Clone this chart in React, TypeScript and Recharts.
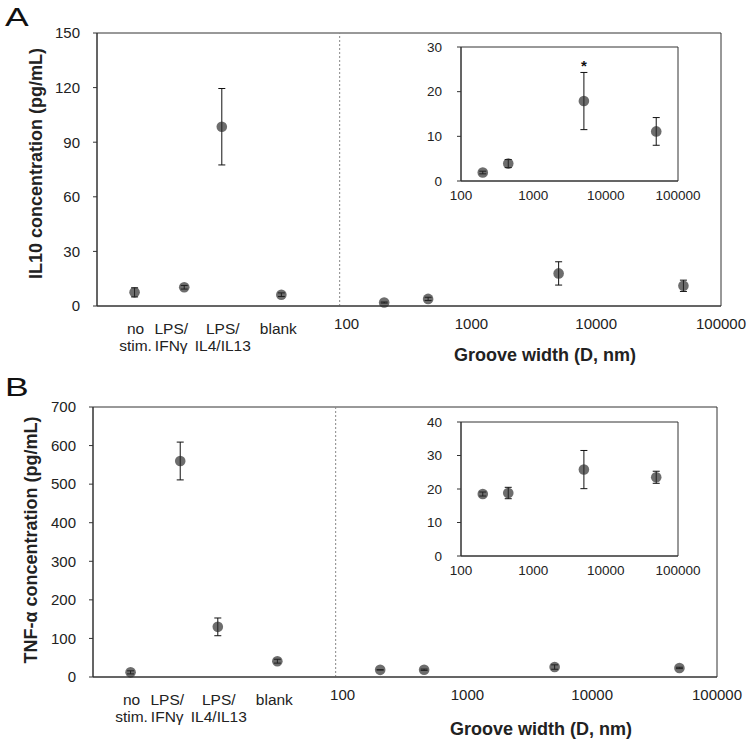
import React from 'react';
import {
  ScatterChart,
  Scatter,
  XAxis,
  YAxis,
  ErrorBar,
  ReferenceLine,
  ReferenceArea,
  ReferenceDot,
  Label,
} from 'recharts';

// ---------- data ----------
const categoryLabels = [['no', 'stim.'], ['LPS/', 'IFNγ'], ['LPS/', 'IL4/IL13'], ['blank']];
const categoryX = [2, 5, 10, 30];
const grooveWidths = [200, 450, 5000, 50000];
const separatorX = 88;
const mainXTicks = [100, 1000, 10000, 100000];
const insetXTicks = [100, 1000, 10000, 100000];

const il10Control = [7.5, 10.3, 98.5, 6.2];
const il10ControlSD = [2.5, 1.0, 21, 1.0];
const il10Groove = [1.9, 3.9, 17.9, 11.1];
const il10GrooveSD = [0.3, 0.9, 6.4, 3.1];
const il10Ticks = [0, 30, 60, 90, 120, 150];
const il10InsetTicks = [0, 10, 20, 30];
const il10Significance = [{ x: 5000, y: 26.5 }];

const tnfControl = [12, 560, 130, 41];
const tnfControlSD = [4, 49, 23, 5];
const tnfGroove = [18.5, 18.8, 25.8, 23.5];
const tnfGrooveSD = [0.6, 1.7, 5.7, 1.8];
const tnfTicks = [0, 100, 200, 300, 400, 500, 600, 700];
const tnfInsetTicks = [0, 10, 20, 30, 40];

// ---------- style ----------
const FONT = '"Liberation Sans", Arial, Helvetica, sans-serif';
const AXIS = '#333';
const TEXT = '#222';
const CAT_LABEL_DX = [1, -13, 1, -3];

const build = (xs: number[], ys: number[], sds: number[]) =>
  xs.map((x, i) => ({ x, y: ys[i], sd: sds[i] }));

const Marker = (p: any) => (
  <circle cx={p.cx} cy={p.cy} r={5.3} fill="#282828" fillOpacity={0.68} />
);

const MainTick = (props: any) => {
  const { x, y, payload } = props;
  const v = payload.value;
  const idx = categoryX.indexOf(v);
  if (idx >= 0) {
    const cx = x + CAT_LABEL_DX[idx];
    return (
      <g>
        {categoryLabels[idx].map((ln, i) => (
          <text
            key={i}
            x={cx}
            y={y + 5 + i * 17}
            dy="0.71em"
            textAnchor="middle"
            fontSize={15.5}
            fill={TEXT}
            fontFamily={FONT}
          >
            {ln}
          </text>
        ))}
      </g>
    );
  }
  return (
    <text x={x} y={y} dy="0.71em" textAnchor="middle" fontSize={15} fill={TEXT} fontFamily={FONT}>
      {v}
    </text>
  );
};

const YTitle = (text: string, dy: number, dx: number) => (props: any) => {
  const vb = props.viewBox || {};
  const cx = vb.x + dx;
  const cy = vb.y + vb.height / 2 + dy;
  return (
    <text
      x={cx}
      y={cy}
      transform={`rotate(-90 ${cx} ${cy})`}
      textAnchor="middle"
      dominantBaseline="central"
      fontFamily={FONT}
      fontWeight="bold"
      fontSize={18}
      fill={TEXT}
    >
      {text}
    </text>
  );
};

const XTitle = (text: string, dy: number) => (props: any) => {
  const vb = props.viewBox || {};
  const cx = vb.x + 448;
  const cy = vb.y + dy;
  return (
    <text
      x={cx}
      y={cy}
      textAnchor="middle"
      dominantBaseline="central"
      fontFamily={FONT}
      fontWeight="bold"
      fontSize={18}
      fill={TEXT}
    >
      {text}
    </text>
  );
};

const Star = (p: any) => (
  <text x={p.cx} y={p.cy + 8} textAnchor="middle" fontSize={15} fontWeight="bold" fill="#111" fontFamily={FONT}>
    *
  </text>
);

type PanelProps = {
  top: number;
  height: number;
  margin: { top: number; right: number; left: number; bottom: number };
  xAxisHeight: number;
  yMax: number;
  yTicks: number[];
  control: any[];
  groove: any[];
  yTitle: string;
  yTitleDy: number;
  yTitleDx: number;
  xTitleDy: number;
};

const MainPanel = (p: PanelProps) => (
  <div style={{ position: 'absolute', left: 0, top: p.top }}>
    <ScatterChart width={748} height={p.height} margin={p.margin}>
      <XAxis
        type="number"
        dataKey="x"
        scale="log"
        domain={[1, 100000]}
        ticks={[...categoryX, ...mainXTicks]}
        interval={0}
        tick={<MainTick />}
        tickLine={false}
        tickSize={0}
        tickMargin={12}
        axisLine={{ stroke: AXIS }}
        height={p.xAxisHeight}
        allowDataOverflow
      >
        <Label content={XTitle('Groove width (D, nm)', p.xTitleDy)} />
      </XAxis>
      <YAxis
        type="number"
        dataKey="y"
        domain={[0, p.yMax]}
        ticks={p.yTicks}
        interval={0}
        width={60}
        tickSize={4}
        tickMargin={13}
        tickLine={{ stroke: AXIS }}
        axisLine={{ stroke: AXIS }}
        tick={{ fontSize: 15, fill: TEXT, fontFamily: FONT }}
      >
        <Label content={YTitle(p.yTitle, p.yTitleDy, p.yTitleDx)} />
      </YAxis>
      <ReferenceArea x1={1} x2={100000} y1={0} y2={p.yMax} fill="none" stroke={AXIS} strokeOpacity={1} fillOpacity={0} />
      <ReferenceLine x={separatorX} stroke="#888" strokeDasharray="2 2" />
      <Scatter data={p.control} shape={Marker} isAnimationActive={false}>
        <ErrorBar dataKey="sd" direction="y" width={3.5} stroke="#111" strokeWidth={1} />
      </Scatter>
      <Scatter data={p.groove} shape={Marker} isAnimationActive={false}>
        <ErrorBar dataKey="sd" direction="y" width={3.5} stroke="#111" strokeWidth={1} />
      </Scatter>
    </ScatterChart>
  </div>
);

type InsetProps = {
  top: number;
  yMax: number;
  yTicks: number[];
  data: any[];
  stars?: { x: number; y: number }[];
};

const Inset = (p: InsetProps) => (
  <div style={{ position: 'absolute', left: 416, top: p.top }}>
    <ScatterChart width={297} height={174} margin={{ top: 10, right: 35, left: 0, bottom: 0 }}>
      <XAxis
        type="number"
        dataKey="x"
        scale="log"
        domain={[100, 100000]}
        ticks={insetXTicks}
        interval={0}
        tickLine={false}
        tickSize={0}
        tickMargin={9}
        axisLine={{ stroke: AXIS }}
        height={30}
        tick={{ fontSize: 13.5, fill: TEXT, fontFamily: FONT }}
        allowDataOverflow
      />
      <YAxis
        type="number"
        dataKey="y"
        domain={[0, p.yMax]}
        ticks={p.yTicks}
        interval={0}
        width={45}
        tickSize={4}
        tickMargin={15}
        tickLine={{ stroke: AXIS }}
        axisLine={{ stroke: AXIS }}
        tick={{ fontSize: 13.5, fill: TEXT, fontFamily: FONT }}
      />
      <ReferenceArea x1={100} x2={100000} y1={0} y2={p.yMax} fill="none" fillOpacity={0} stroke={AXIS} strokeOpacity={1} />
      <Scatter data={p.data} shape={Marker} isAnimationActive={false}>
        <ErrorBar dataKey="sd" direction="y" width={3.5} stroke="#111" strokeWidth={1} />
      </Scatter>
      {(p.stars || []).map((s, i) => (
        <ReferenceDot key={i} x={s.x} y={s.y} r={0} shape={Star} />
      ))}
    </ScatterChart>
  </div>
);

const PanelLetter = ({ letter, top }: { letter: string; top: number }) => (
  <svg style={{ position: 'absolute', left: 0, top }} width={50} height={40}>
    <text x={5 / 1.42} y={26} fontSize={25} fontFamily={FONT} fill="#111" transform="scale(1.42,1)">
      {letter}
    </text>
  </svg>
);

export default function App() {
  const il10C = build(categoryX, il10Control, il10ControlSD);
  const il10G = build(grooveWidths, il10Groove, il10GrooveSD);
  const tnfC = build(categoryX, tnfControl, tnfControlSD);
  const tnfG = build(grooveWidths, tnfGroove, tnfGrooveSD);

  return (
    <div style={{ position: 'absolute', left: 0, top: 0, width: 748, height: 743, background: '#fff', fontFamily: FONT }}>
      <MainPanel
        top={0}
        height={370}
        margin={{ top: 33, right: 27, left: 37, bottom: 0 }}
        xAxisHeight={64}
        yMax={150}
        yTicks={il10Ticks}
        control={il10C}
        groove={il10G}
        yTitle="IL10 concentration (pg/mL)"
        yTitleDy={-6}
        yTitleDx={-1}
        xTitleDy={49}
      />
      <Inset top={37} yMax={30} yTicks={il10InsetTicks} data={il10G} stars={il10Significance} />
      <MainPanel
        top={370}
        height={373}
        margin={{ top: 37, right: 31, left: 33, bottom: 0 }}
        xAxisHeight={66}
        yMax={700}
        yTicks={tnfTicks}
        control={tnfC}
        groove={tnfG}
        yTitle="TNF-α concentration (pg/mL)"
        yTitleDy={-2}
        yTitleDx={-2}
        xTitleDy={52}
      />
      <Inset top={412} yMax={40} yTicks={tnfInsetTicks} data={tnfG} />
      <PanelLetter letter="A" top={0} />
      <PanelLetter letter="B" top={370} />
    </div>
  );
}
